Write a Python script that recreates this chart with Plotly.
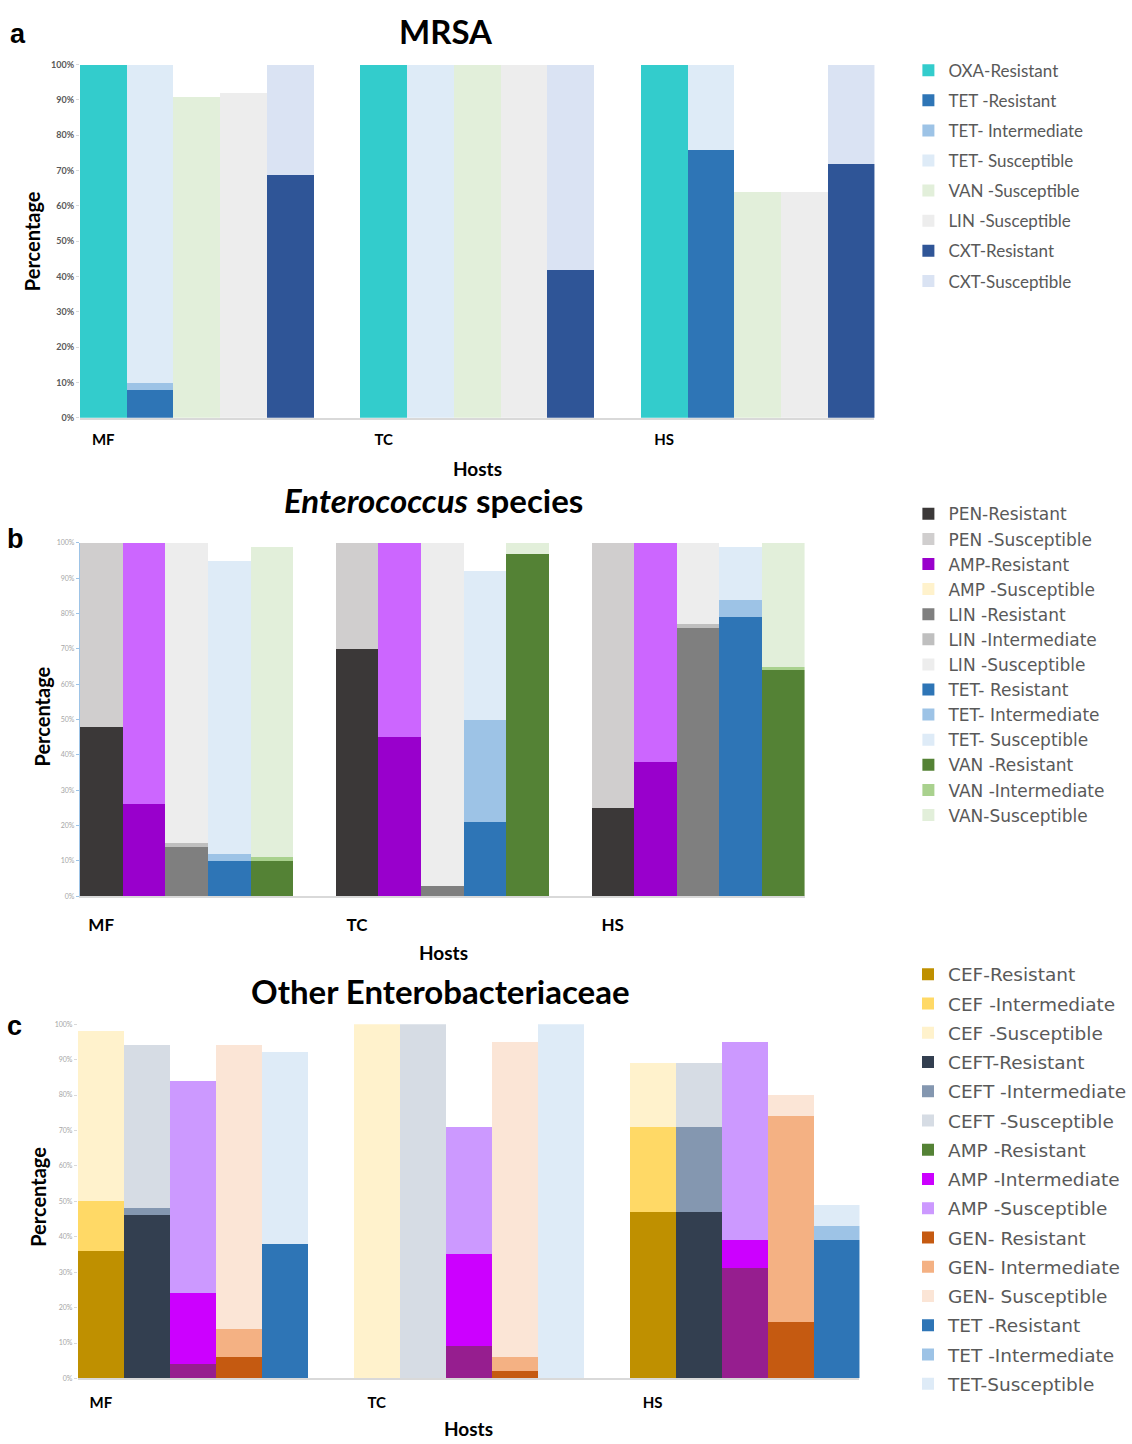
import plotly.graph_objects as go

# ---------------- data ----------------
hosts = ["MF", "TC", "HS"]
pct_vals = [0, 10, 20, 30, 40, 50, 60, 70, 80, 90, 100]
pct_text = ["0%", "10%", "20%", "30%", "40%", "50%", "60%", "70%", "80%", "90%", "100%"]

# Panel a: MRSA (values per host MF, TC, HS; stacked segments)
mrsa_oxa_r = [100, 100, 100]
mrsa_tet_r = [8, 0, 76]
mrsa_tet_i = [2, 0, 0]
mrsa_tet_s = [90, 100, 24]
mrsa_van_s = [91, 100, 64]
mrsa_lin_s = [92, 100, 64]
mrsa_cxt_r = [69, 42, 72]
mrsa_cxt_s = [31, 58, 28]

# Panel b: Enterococcus species
ent_pen_r = [48, 70, 25]
ent_pen_s = [52, 30, 75]
ent_amp_r = [26, 45, 38]
ent_amp_s = [74, 55, 62]
ent_lin_r = [14, 3, 76]
ent_lin_i = [1, 0, 1]
ent_lin_s = [85, 97, 23]
ent_tet_r = [10, 21, 79]
ent_tet_i = [2, 29, 5]
ent_tet_s = [83, 42, 15]
ent_van_r = [10, 97, 64]
ent_van_i = [1, 0, 1]
ent_van_s = [88, 3, 35]

# Panel c: Other Enterobacteriaceae
oth_cef_r = [36, 0, 47]
oth_cef_i = [14, 0, 24]
oth_cef_s = [48, 100, 18]
oth_ceft_r = [46, 0, 47]
oth_ceft_i = [2, 0, 24]
oth_ceft_s = [46, 100, 18]
oth_amp_r = [4, 9, 31]
oth_amp_i = [20, 26, 8]
oth_amp_s = [60, 36, 56]
oth_gen_r = [6, 2, 16]
oth_gen_i = [8, 4, 58]
oth_gen_s = [80, 89, 6]
oth_tet_r = [38, 0, 39]
oth_tet_i = [0, 0, 4]
oth_tet_s = [54, 100, 6]

# series: (legend name, slot within host group, values, bar colour, legend swatch colour)
panel_a = [
    ("OXA-Resistant", 0, mrsa_oxa_r, "#33CCCC", None),
    ("TET -Resistant", 1, mrsa_tet_r, "#2E75B6", None),
    ("TET- Intermediate", 1, mrsa_tet_i, "#9DC3E6", None),
    ("TET- Susceptible", 1, mrsa_tet_s, "#DEEBF7", None),
    ("VAN -Susceptible", 2, mrsa_van_s, "#E2EFDA", None),
    ("LIN -Susceptible", 3, mrsa_lin_s, "#EDEDED", None),
    ("CXT-Resistant", 4, mrsa_cxt_r, "#2F5597", None),
    ("CXT-Susceptible", 4, mrsa_cxt_s, "#DAE3F3", None),
]
panel_b = [
    ("PEN-Resistant", 0, ent_pen_r, "#3B3838", None),
    ("PEN -Susceptible", 0, ent_pen_s, "#D0CECE", None),
    ("AMP-Resistant", 1, ent_amp_r, "#9900CC", None),
    ("AMP -Susceptible", 1, ent_amp_s, "#CC66FF", "#FFF2CC"),
    ("LIN -Resistant", 2, ent_lin_r, "#7F7F7F", None),
    ("LIN -Intermediate", 2, ent_lin_i, "#BFBFBF", None),
    ("LIN -Susceptible", 2, ent_lin_s, "#EDEDED", None),
    ("TET- Resistant", 3, ent_tet_r, "#2E75B6", None),
    ("TET- Intermediate", 3, ent_tet_i, "#9DC3E6", None),
    ("TET- Susceptible", 3, ent_tet_s, "#DEEBF7", None),
    ("VAN -Resistant", 4, ent_van_r, "#548235", None),
    ("VAN -Intermediate", 4, ent_van_i, "#A9D18E", None),
    ("VAN-Susceptible", 4, ent_van_s, "#E2EFDA", None),
]
panel_c = [
    ("CEF-Resistant", 0, oth_cef_r, "#BF9000", None),
    ("CEF -Intermediate", 0, oth_cef_i, "#FFD966", None),
    ("CEF -Susceptible", 0, oth_cef_s, "#FFF2CC", None),
    ("CEFT-Resistant", 1, oth_ceft_r, "#333F50", None),
    ("CEFT -Intermediate", 1, oth_ceft_i, "#8497B0", None),
    ("CEFT -Susceptible", 1, oth_ceft_s, "#D6DCE4", None),
    ("AMP -Resistant", 2, oth_amp_r, "#961E8F", "#548235"),
    ("AMP -Intermediate", 2, oth_amp_i, "#CC00FF", None),
    ("AMP -Susceptible", 2, oth_amp_s, "#CC99FF", None),
    ("GEN- Resistant", 3, oth_gen_r, "#C55A11", None),
    ("GEN- Intermediate", 3, oth_gen_i, "#F4B183", None),
    ("GEN- Susceptible", 3, oth_gen_s, "#FBE5D6", None),
    ("TET -Resistant", 4, oth_tet_r, "#2E75B6", None),
    ("TET -Intermediate", 4, oth_tet_i, "#9DC3E6", None),
    ("TET-Susceptible", 4, oth_tet_s, "#DEEBF7", None),
]

W, H = 1132, 1444
GROUP = 6  # 5 bars + 1 empty slot per host


def px(x, y):
    return x / W, 1 - y / H


fig = go.Figure()

panels = [
    # series, axis suffix, legend id, x px span, y px span
    (panel_a, "", "legend", (80, 876), (59, 415)),
    (panel_b, "2", "legend2", (80, 806), (541, 897)),
    (panel_c, "3", "legend3", (78, 861), (1026, 1383)),
]

for series, ax, leg, _, _ in panels:
    for k, (name, slot, vals, col, legcol) in enumerate(series):
        xs = [slot + GROUP * i for i in range(len(hosts))]
        grp = f"{leg}_{k}"
        fig.add_trace(go.Bar(
            x=xs, y=vals, name=name, width=1,
            marker=dict(color=col, line=dict(width=0)),
            xaxis="x" + ax, yaxis="y" + ax,
            legend=leg, legendgroup=grp,
            showlegend=legcol is None,
            hovertemplate=name + ": %{y}%<extra></extra>",
        ))
        if legcol is not None:
            fig.add_trace(go.Bar(
                x=[None], y=[None], name=name,
                marker=dict(color=legcol, line=dict(width=0)),
                xaxis="x" + ax, yaxis="y" + ax,
                legend=leg, legendgroup=grp, showlegend=True,
            ))

layout = dict(
    width=W, height=H, margin=dict(l=0, r=0, t=0, b=0),
    barmode="stack", bargap=0,
    plot_bgcolor="white", paper_bgcolor="white",
    showlegend=True,
)

tick_fonts = [
    dict(family="Lato", size=9, color="#595959", weight="bold"),
    dict(family="Lato", size=7, color="#A6A6A6"),
    dict(family="Lato", size=7, color="#A6A6A6"),
]
cat_fonts = [15, 17, 15]
standoffs = [7, 13, 10]
yline = [False, True, False]

for i, (series, ax, leg, (x0, x1), (y0, y1)) in enumerate(panels):
    xd = [x0 / W, x1 / W]
    yd = [1 - y1 / H, 1 - y0 / H]
    layout["xaxis" + ax] = dict(
        domain=xd, range=[-0.5, 3 * GROUP - 1.5],
        tickvals=[GROUP * j for j in range(len(hosts))], ticktext=hosts,
        ticks="", showgrid=False, zeroline=False,
        showline=True, linecolor="#D9D9D9", linewidth=1.5,
        tickfont=dict(family="Lato", size=cat_fonts[i], color="black", weight="bold"),
        ticklabelstandoff=standoffs[i],
        anchor="y" + ax, fixedrange=True,
    )
    layout["yaxis" + ax] = dict(
        domain=yd, range=[0, 100],
        tickvals=pct_vals, ticktext=pct_text,
        showgrid=False, zeroline=False,
        ticks="outside", ticklen=3,
        tickcolor="#9DC3E6" if yline[i] else "#D9D9D9",
        showline=yline[i], linecolor="#9DC3E6", linewidth=1,
        tickfont=tick_fonts[i],
        anchor="x" + ax, fixedrange=True,
    )

lx = 910 / W
layout["legend"] = dict(
    x=lx, y=1 - 47 / H, xanchor="left", yanchor="top",
    traceorder="grouped", tracegroupgap=5,
    font=dict(family="Lato", size=17, color="#595959"),
    bgcolor="rgba(0,0,0,0)", itemclick=False, itemdoubleclick=False,
)
layout["legend2"] = dict(
    x=lx, y=1 - 494 / H, xanchor="left", yanchor="top",
    traceorder="grouped", tracegroupgap=0,
    font=dict(family="DejaVu Sans", size=17, color="#595959"),
    bgcolor="rgba(0,0,0,0)", itemclick=False, itemdoubleclick=False,
)
layout["legend3"] = dict(
    x=lx, y=1 - 957 / H, xanchor="left", yanchor="top",
    traceorder="grouped", tracegroupgap=2.2,
    font=dict(family="DejaVu Sans", size=18.5, color="#595959"),
    bgcolor="rgba(0,0,0,0)", itemclick=False, itemdoubleclick=False,
)

annotations = []


def ann(text, x, y, size, family="Lato", angle=0, color="black"):
    ax_, ay_ = px(x, y)
    annotations.append(dict(
        text=text, x=ax_, y=ay_, xref="paper", yref="paper",
        xanchor="center", yanchor="middle", showarrow=False, textangle=angle,
        font=dict(family=family, size=size, color=color),
    ))


# panel letters
ann("<b>a</b>", 18, 28, 27, family="Liberation Sans")
ann("<b>b</b>", 16, 537, 27, family="Liberation Sans")
ann("<b>c</b>", 15, 1028, 27, family="Liberation Sans")
# titles
ann("<b>MRSA</b>", 447, 25, 33)
ann("<b><i>Enterococcus</i> species</b>", 434, 498, 33)
ann("<b>Other Enterobacteriaceae</b>", 441, 993, 33)
# axis titles
ann("<b>Percentage</b>", 32, 237, 20, angle=-90)
ann("<b>Percentage</b>", 42, 716, 20, angle=-90)
ann("<b>Percentage</b>", 38, 1200, 20, angle=-90)
ann("<b>Hosts</b>", 478, 466, 19)
ann("<b>Hosts</b>", 444, 954, 19)
ann("<b>Hosts</b>", 469, 1433, 19)

layout["annotations"] = annotations
fig.update_layout(**layout)

fig.write_html(
    "out.html", include_plotlyjs=True, config={"displayModeBar": False},
    post_script="document.body.style.margin='0px';",
)
